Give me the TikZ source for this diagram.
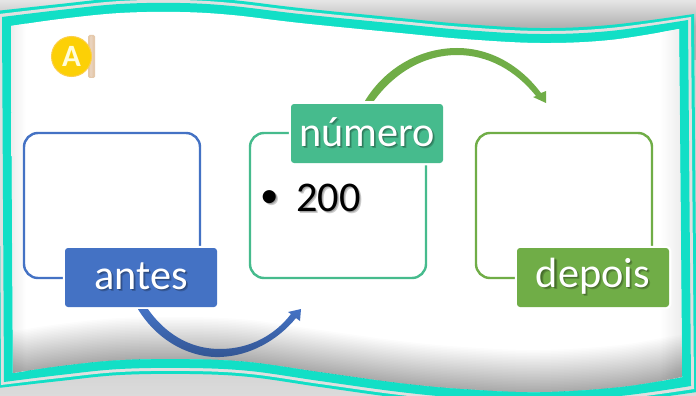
\documentclass[tikz,border=0pt]{standalone}
\usepackage{fontspec}
\setmainfont{Carlito}
\usetikzlibrary{calc}
\definecolor{teal1}{HTML}{12DFC6}
\definecolor{blueA}{HTML}{4472C4}
\definecolor{greenN}{HTML}{46BB8D}
\definecolor{greenD}{HTML}{70AD47}
% text with a soft drop shadow
\newcommand\softshadow[1]{%
  \makebox[0pt][l]{\pgfsetfillopacity{.2}\color{black}%
    \makebox[0pt][l]{\kern1.2pt\raisebox{-1.2pt}{#1}}%
    \makebox[0pt][l]{\kern2.2pt\raisebox{-2.2pt}{#1}}%
    \pgfsetfillopacity{1}}#1}
\newcommand\labeltext[1]{\raisebox{-2.5pt}{\softshadow{#1}}}
% the wavy frame; #1 = outward offset
\newcommand\topcurve[1]{plot[smooth,tension=.6] coordinates {({11-#1},{26-#1}) ({60},{19-#1}) (120,{13-#1}) (180,{12-#1}) (232,{15-#1}) (300,{23-#1}) (400,{33-#1}) (464,{39-#1}) (540,{43-#1}) (610,{40-#1}) ({679+#1},{29-#1})}}
\newcommand\botpts[1]{({682+#1},{377+#1}) (620,{387+#1}) (540,{392+#1}) (464,{389+#1}) (400,{383+#1}) (320,{372+#1}) (250,{362+#1}) (190,{359+#1}) (120,{360+#1}) (60,{366+#1}) ({13-#1},{373+#1})}
\newcommand\framepath[1]{\topcurve{#1} -- plot[smooth,tension=.6] coordinates {\botpts{#1}} -- cycle}
\tikzset{
  cardbox/.style={line width=2.4pt,rounded corners=14pt},
  labelbox/.style={rounded corners=3pt,minimum width=152pt,minimum height=59pt,inner sep=0pt,text=white,font=\fontsize{42.3}{44}\selectfont,preaction={draw=white,line width=4.5pt}},
}
\begin{document}
\begin{tikzpicture}[x=1pt,y=-1pt]
\useasboundingbox (0,0) rectangle (696,396);
\clip (0,0) rectangle (696,396);
% outer background
\fill[black!18] (0,0) rectangle (696,396);
\shade[top color=black!10,bottom color=black!30] (0,0) rectangle (696,26);
\fill[black!30] (0,26) rectangle (696,60);
\shade[top color=black!20,bottom color=black!14] (0,340) rectangle (696,396);
% frame layers
\fill[teal1] \framepath{15};
\fill[black!12] \framepath{12};
\fill[teal1] \framepath{9};
\begin{scope}
  \clip \framepath{0};
  \fill[white] (0,0) rectangle (696,396);
  \shade[left color=black!8,right color=white] (8,0) rectangle (26,396);
  \shade[left color=white,right color=black!8] (660,0) rectangle (684,396);
  \foreach \k in {0,1.5,...,42} {
    \fill[black,opacity=.012] plot[smooth,tension=.6] coordinates {(730,{377-\k}) (682,{377-\k}) (620,{387-\k}) (540,{392-\k}) (464,{389-\k}) (400,{383-\k}) (320,{372-\k}) (250,{362-\k}) (190,{359-\k}) (120,{360-\k}) (60,{366-\k}) (13,{373-\k}) (-30,{378-\k})} -- (-30,420) -- (730,420) -- cycle;
  }
\end{scope}
% A badge
\fill[rounded corners=1.5pt,fill=orange!25!white!90!black] (88,35) rectangle (95,78);
\fill[rounded corners=1pt,fill=brown!35!white] (90,36) rectangle (92.5,77);
\node[circle,minimum size=40pt,inner sep=0pt,fill=yellow!68!orange,draw=yellow!50!orange!70!white,line width=1pt,text=yellow!15!white,font=\fontsize{31}{31}\selectfont\bfseries] (badge) at (71.5,56.5) {A};
% cards
\draw[cardbox,draw=blueA] (24,133) rectangle (200,278);
\draw[cardbox,draw=greenN] (250,133) rectangle (426,278);
\draw[cardbox,draw=greenD] (476,133) rectangle (652,278);
% labels
\node[labelbox,fill=blueA] (antes) at (141,277.5) {\labeltext{antes}};
\node[labelbox,fill=greenN] (numero) at (367,133.5) {\labeltext{número}};
\node[labelbox,fill=greenD] (depois) at (593,277.5) {\labeltext{depois}};
\node[font=\fontsize{42.3}{44}\selectfont,text=black,inner sep=0pt,anchor=base west] (item) at (260,211) {\softshadow{\raisebox{3.5pt}{\fontsize{37}{37}\selectfont •}\hspace{17.5pt}200}};
% curved arrows
\coordinate (blueTip) at (301,309);
\coordinate (greenTip) at (546,103);
\shade[top color=blueA,bottom color=blueA!75!black]
  ($(antes.south)+(-3,2)$) .. controls (160,345) and (195,358) .. (220,357) .. controls (250,356) and (278,340) .. (296,318)
  -- (300,321) -- (blueTip) -- (288,312) -- (291,314)
  .. controls (275,335) and (250,349) .. (220,349) .. controls (197,349) and (170,340) .. ($(antes.south)+(7,2)$) -- cycle;
\fill[greenD]
  ($(numero.north)+(-2,-3)$) .. controls (385,68) and (420,48) .. (457,48) .. controls (490,48) and (520,65) .. (541,93)
  -- (546,91) -- (greenTip) -- (533,97) -- (536,96)
  .. controls (515,70) and (488,55) .. (457,55) .. controls (425,55) and (395,72) .. ($(numero.north)+(7,-3)$) -- cycle;
\end{tikzpicture}
\end{document}
